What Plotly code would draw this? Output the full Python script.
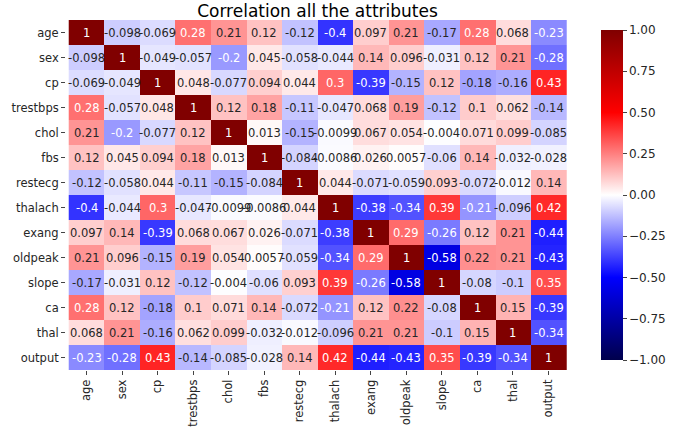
import plotly.graph_objects as go

labels = ["age", "sex", "cp", "trestbps", "chol", "fbs", "restecg", "thalach",
          "exang", "oldpeak", "slope", "ca", "thal", "output"]

age      = [1, -0.098, -0.069, 0.28, 0.21, 0.12, -0.12, -0.4, 0.097, 0.21, -0.17, 0.28, 0.068, -0.23]
sex      = [-0.098, 1, -0.049, -0.057, -0.2, 0.045, -0.058, -0.044, 0.14, 0.096, -0.031, 0.12, 0.21, -0.28]
cp       = [-0.069, -0.049, 1, 0.048, -0.077, 0.094, 0.044, 0.3, -0.39, -0.15, 0.12, -0.18, -0.16, 0.43]
trestbps = [0.28, -0.057, 0.048, 1, 0.12, 0.18, -0.11, -0.047, 0.068, 0.19, -0.12, 0.1, 0.062, -0.14]
chol     = [0.21, -0.2, -0.077, 0.12, 1, 0.013, -0.15, -0.0099, 0.067, 0.054, -0.004, 0.071, 0.099, -0.085]
fbs      = [0.12, 0.045, 0.094, 0.18, 0.013, 1, -0.084, -0.0086, 0.026, 0.0057, -0.06, 0.14, -0.032, -0.028]
restecg  = [-0.12, -0.058, 0.044, -0.11, -0.15, -0.084, 1, 0.044, -0.071, -0.059, 0.093, -0.072, -0.012, 0.14]
thalach  = [-0.4, -0.044, 0.3, -0.047, -0.0099, -0.0086, 0.044, 1, -0.38, -0.34, 0.39, -0.21, -0.096, 0.42]
exang    = [0.097, 0.14, -0.39, 0.068, 0.067, 0.026, -0.071, -0.38, 1, 0.29, -0.26, 0.12, 0.21, -0.44]
oldpeak  = [0.21, 0.096, -0.15, 0.19, 0.054, 0.0057, -0.059, -0.34, 0.29, 1, -0.58, 0.22, 0.21, -0.43]
slope    = [-0.17, -0.031, 0.12, -0.12, -0.004, -0.06, 0.093, 0.39, -0.26, -0.58, 1, -0.08, -0.1, 0.35]
ca       = [0.28, 0.12, -0.18, 0.1, 0.071, 0.14, -0.072, -0.21, 0.12, 0.22, -0.08, 1, 0.15, -0.39]
thal     = [0.068, 0.21, -0.16, 0.062, 0.099, -0.032, -0.012, -0.096, 0.21, 0.21, -0.1, 0.15, 1, -0.34]
output   = [-0.23, -0.28, 0.43, -0.14, -0.085, -0.028, 0.14, 0.42, -0.44, -0.43, 0.35, -0.39, -0.34, 1]

z = [age, sex, cp, trestbps, chol, fbs, restecg, thalach, exang, oldpeak, slope, ca, thal, output]

# matplotlib "seismic"
seismic = [(0.0, (0.0, 0.0, 0.3)), (0.25, (0.0, 0.0, 1.0)), (0.5, (1.0, 1.0, 1.0)),
           (0.75, (1.0, 0.0, 0.0)), (1.0, (0.5, 0.0, 0.0))]
colorscale = [[p, "rgb(%d,%d,%d)" % tuple(round(c * 255) for c in rgb)] for p, rgb in seismic]


def cmap(v):
    t = (v + 1) / 2
    for (p0, c0), (p1, c1) in zip(seismic[:-1], seismic[1:]):
        if p0 <= t <= p1:
            f = (t - p0) / (p1 - p0)
            return tuple(a + (b - a) * f for a, b in zip(c0, c1))
    return seismic[-1][1]


def lum(rgb):
    lin = [c / 12.92 if c <= 0.03928 else ((c + 0.055) / 1.055) ** 2.4 for c in rgb]
    return 0.2126 * lin[0] + 0.7152 * lin[1] + 0.0722 * lin[2]


fig = go.Figure(go.Heatmap(
    z=z, x=labels, y=labels, zmin=-1, zmax=1, colorscale=colorscale,
    colorbar=dict(x=1.063, xanchor="left", xpad=0, thickness=22, len=1, lenmode="fraction",
                  y=0.5, yanchor="middle", outlinewidth=0, ticks="outside", ticklen=4,
                  tickvals=[-1, -0.75, -0.5, -0.25, 0, 0.25, 0.5, 0.75, 1],
                  tickformat=".2f", tickfont=dict(size=12, color="#262626")),
    hoverongaps=False,
))

annotations = []
for i, row in enumerate(z):
    for j, v in enumerate(row):
        col = "#262626" if lum(cmap(v)) > 0.408 else "white"
        annotations.append(dict(x=labels[j], y=labels[i], text=format(v, ".2g"),
                                showarrow=False, font=dict(size=11.5, color=col,
                                family="DejaVu Sans")))

fig.update_layout(
    width=683, height=439,
    margin=dict(l=64, r=114, t=20, b=52),
    paper_bgcolor="white", plot_bgcolor="white",
    font=dict(family="DejaVu Sans", color="#262626"),
    title=dict(text="Correlation all the attributes", xref="paper", x=0.5, xanchor="center",
               yref="container", y=0.988, yanchor="top", pad=dict(t=0),
               font=dict(size=17, color="black")),
    annotations=annotations,
    xaxis=dict(tickangle=-90, ticks="outside", ticklen=4, tickfont=dict(size=11.5),
               showgrid=False, zeroline=False),
    yaxis=dict(autorange="reversed", ticks="outside", ticklen=4, tickfont=dict(size=11.5),
               showgrid=False, zeroline=False),
)

fig.write_html("out.html")
